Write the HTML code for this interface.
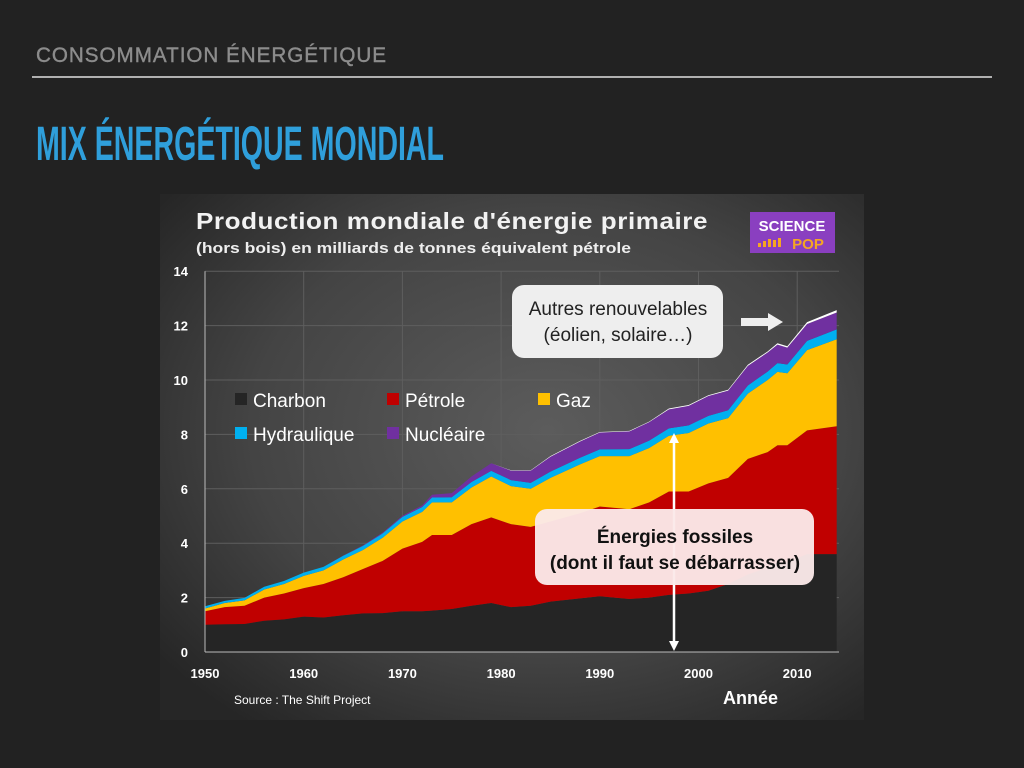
<!DOCTYPE html>
<html><head><meta charset="utf-8"><style>
html,body{margin:0;padding:0;background:#222222;}
svg{display:block;}
text{font-family:"Liberation Sans",sans-serif;}
</style></head><body>
<svg id="slide" width="1024" height="768" viewBox="0 0 1024 768">
<defs>
<radialGradient id="bg" cx="0.55" cy="0.45" r="0.7">
<stop offset="0" stop-color="#5c5c5c"/><stop offset="0.6" stop-color="#444"/><stop offset="1" stop-color="#262626"/>
</radialGradient>
</defs>
<rect width="1024" height="768" fill="#222222"/>
<text x="36" y="62" font-size="21" fill="#8c8c8c" stroke="#8c8c8c" stroke-width="0.4" letter-spacing="1" textLength="351" lengthAdjust="spacingAndGlyphs">CONSOMMATION ÉNERGÉTIQUE</text>
<rect x="32" y="76" width="960" height="2" fill="#b0b0b0"/>
<text x="36" y="160" font-size="48" font-weight="bold" fill="#2f9fdb" style="font-family:'Liberation Sans Narrow','Liberation Sans',sans-serif" textLength="408" lengthAdjust="spacingAndGlyphs">MIX ÉNERGÉTIQUE MONDIAL</text>
<g>
<rect x="160" y="194" width="704" height="526" fill="url(#bg)"/>
<text x="196" y="229" font-size="23" font-weight="bold" fill="#f2f2f2" letter-spacing="0.5" textLength="512" lengthAdjust="spacingAndGlyphs">Production mondiale d'énergie primaire</text>
<text x="196" y="253" font-size="14.5" font-weight="bold" fill="#eeeeee" textLength="435" lengthAdjust="spacingAndGlyphs">(hors bois) en milliards de tonnes équivalent pétrole</text>
<g>
<rect x="750" y="212" width="85" height="41" fill="#8a3fc0"/>
<text x="792" y="231" font-size="15" font-weight="bold" fill="#fff" text-anchor="middle">SCIENCE</text>
<text x="808" y="249" font-size="15" font-weight="bold" fill="#f5a623" text-anchor="middle">POP</text>
<rect x="758" y="243" width="3" height="4" fill="#f5a623"/><rect x="763" y="241" width="3" height="6" fill="#f5a623"/><rect x="768" y="239" width="3" height="8" fill="#f5a623"/><rect x="773" y="240" width="3" height="7" fill="#f5a623"/><rect x="778" y="238" width="3" height="9" fill="#f5a623"/>
</g>
<g id="grid"></g>
<g id="areas"></g>
<g id="axes"></g>
<g font-size="19" fill="#fff">
<rect x="235" y="393" width="12" height="12" fill="#252525"/><text x="253" y="407" fill="#fff">Charbon</text>
<rect x="387" y="393" width="12" height="12" fill="#c00000"/><text x="405" y="407" fill="#fff">Pétrole</text>
<rect x="538" y="393" width="12" height="12" fill="#ffc000"/><text x="556" y="407" fill="#fff">Gaz</text>
<rect x="235" y="427" width="12" height="12" fill="#00b0f0"/><text x="253" y="441" fill="#fff">Hydraulique</text>
<rect x="387" y="427" width="12" height="12" fill="#7030a0"/><text x="405" y="441" fill="#fff">Nucléaire</text>
</g>
<g>
<rect x="512" y="285" width="211" height="73" rx="12" fill="#eeeeee"/>
<text x="618" y="315" font-size="19" fill="#222" text-anchor="middle">Autres renouvelables</text>
<text x="618" y="341" font-size="19" fill="#222" text-anchor="middle">(éolien, solaire…)</text>
<polygon points="741,318 768,318 768,313 783,322 768,331 768,326 741,326" fill="#eeeeee"/>
</g>
<g>
<line x1="674" y1="440" x2="674" y2="642" stroke="#fff" stroke-width="2.5"/>
<polygon points="669,443 674,433 679,443" fill="#fff"/>
<polygon points="669,641 674,651 679,641" fill="#fff"/>
</g>
<g>
<rect x="535" y="509" width="279" height="76" rx="12" fill="#fbe9e9" opacity="0.96"/>
<text x="675" y="543" font-size="19" font-weight="bold" fill="#111" text-anchor="middle">Énergies fossiles</text>
<text x="675" y="569" font-size="19" font-weight="bold" fill="#111" text-anchor="middle">(dont il faut se débarrasser)</text>
</g>
<text x="234" y="704" font-size="12" fill="#fff">Source : The Shift Project</text>
<text x="723" y="704" font-size="18" font-weight="bold" fill="#fff">Année</text>
</g>
</svg>
<script>
const years=[1950,1952,1954,1956,1958,1960,1962,1964,1966,1968,1970,1972,1973,1975,1977,1979,1981,1983,1985,1988,1990,1993,1995,1997,1999,2001,2003,2005,2007,2008,2009,2011,2014];
const coal=[1.0,1.02,1.03,1.15,1.2,1.3,1.27,1.35,1.42,1.43,1.5,1.5,1.52,1.58,1.7,1.8,1.65,1.7,1.85,1.97,2.05,1.95,2.0,2.1,2.15,2.25,2.5,2.85,3.1,3.3,3.3,3.6,3.6];
const oil=[0.5,0.63,0.67,0.85,0.95,1.05,1.23,1.4,1.63,1.92,2.3,2.55,2.78,2.72,3.0,3.15,3.05,2.9,2.95,3.13,3.3,3.3,3.5,3.8,3.75,3.95,3.9,4.25,4.25,4.3,4.3,4.55,4.7];
const gas=[0.1,0.15,0.2,0.3,0.35,0.45,0.5,0.65,0.7,0.85,1.0,1.1,1.2,1.2,1.35,1.5,1.4,1.4,1.6,1.8,1.85,1.95,2.0,2.05,2.15,2.2,2.2,2.4,2.65,2.7,2.65,2.95,3.2];
const hydro=[0.08,0.08,0.09,0.1,0.11,0.12,0.13,0.14,0.15,0.16,0.17,0.18,0.18,0.19,0.2,0.21,0.22,0.22,0.23,0.24,0.25,0.26,0.27,0.27,0.28,0.28,0.29,0.3,0.31,0.32,0.32,0.34,0.36];
const nuclear=[0,0,0,0,0,0,0,0.01,0.02,0.03,0.04,0.06,0.1,0.15,0.2,0.28,0.35,0.45,0.55,0.6,0.62,0.65,0.68,0.7,0.72,0.73,0.72,0.72,0.7,0.68,0.62,0.62,0.62];
const renew=[0,0,0,0,0,0,0,0,0,0,0,0,0,0,0,0,0.01,0.01,0.02,0.02,0.02,0.02,0.02,0.03,0.03,0.03,0.03,0.04,0.04,0.05,0.05,0.07,0.09];
const yTicks=[0,2,4,6,8,10,12,14];
const xTicks=[1950,1960,1970,1980,1990,2000,2010];
const NS="http://www.w3.org/2000/svg";
const X=y=>205+(y-1950)*9.87;
const Y=v=>652-v*27.2;
function mk(tag,attrs,parent){const e=document.createElementNS(NS,tag);for(const k in attrs)e.setAttribute(k,attrs[k]);parent.appendChild(e);return e;}
const grid=document.getElementById('grid'),axes=document.getElementById('axes'),areas=document.getElementById('areas');
yTicks.forEach(t=>{
 const l=mk('line',{x1:205,x2:839,y1:Y(t),y2:Y(t),stroke:'#5e5e5e','stroke-width':1},grid);
 
 
 const tx=mk('text',{x:188,y:Y(t)+5,'font-size':13,'font-weight':'bold',fill:'#fff','text-anchor':'end'},axes);
 tx.textContent=t;
 
 
});
xTicks.forEach(t=>{
 const l=mk('line',{x1:X(t),x2:X(t),y1:Y(14),y2:Y(0),stroke:'#5e5e5e','stroke-width':1},grid);
 
 
 const tx=mk('text',{x:X(t),y:678,'font-size':13,'font-weight':'bold',fill:'#fff','text-anchor':'middle'},axes);
 tx.textContent=t;
 
 
});
const series=[[coal,'#252525','area-charbon'],[oil,'#c00000','area-petrole'],[gas,'#ffc000','area-gaz'],[hydro,'#00b0f0','area-hydraulique'],[nuclear,'#7030a0','area-nucleaire'],[renew,'#ffffff','area-renouvelables']];
let base=years.map(()=>0);
series.forEach(([vals,col,name])=>{
 const top=base.map((b,i)=>b+vals[i]);
 let d='M'+years.map((y,i)=>X(y)+','+Y(top[i])).join(' L');
 for(let i=years.length-1;i>=0;i--)d+=' L'+X(years[i])+','+Y(base[i]);
 const p=mk('path',{d:d+'Z',fill:col},areas);
 
 
 base=top;
});
const ax=mk('line',{x1:205,x2:839,y1:Y(0),y2:Y(0),stroke:'#bbb','stroke-width':1},axes);


const ay=mk('line',{x1:205,x2:205,y1:Y(14),y2:Y(0),stroke:'#bbb','stroke-width':1},axes);


</script>
</body></html>
